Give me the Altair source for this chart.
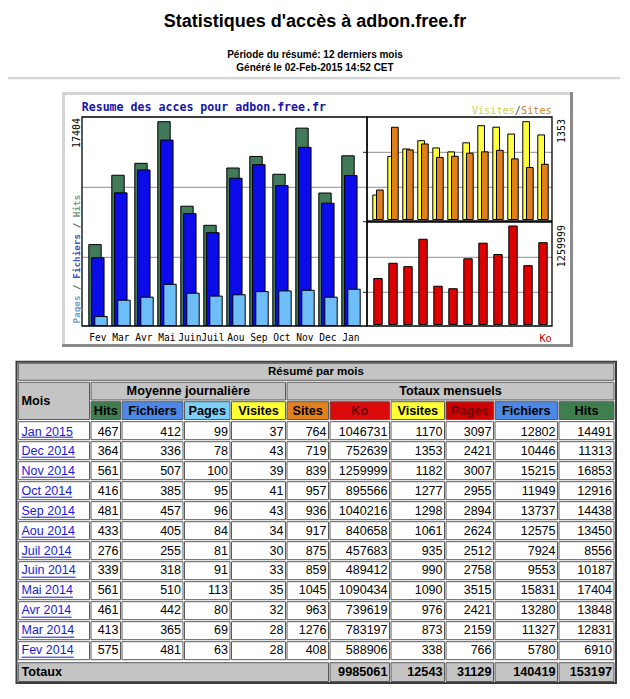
import altair as alt
import pandas as pd

# ------------------------------------------------------------------ data
mois = ["Jan 2015", "Dec 2014", "Nov 2014", "Oct 2014", "Sep 2014", "Aou 2014",
        "Juil 2014", "Juin 2014", "Mai 2014", "Avr 2014", "Mar 2014", "Fev 2014"]
moy_hits = [467, 364, 561, 416, 481, 433, 276, 339, 561, 461, 413, 575]
moy_fichiers = [412, 336, 507, 385, 457, 405, 255, 318, 510, 442, 365, 481]
moy_pages = [99, 78, 100, 95, 96, 84, 81, 91, 113, 80, 69, 63]
moy_visites = [37, 43, 39, 41, 43, 34, 30, 33, 35, 32, 28, 28]
tot_sites = [764, 719, 839, 957, 936, 917, 875, 859, 1045, 963, 1276, 408]
tot_ko = [1046731, 752639, 1259999, 895566, 1040216, 840658, 457683, 489412,
          1090434, 739619, 783197, 588906]
tot_visites = [1170, 1353, 1182, 1277, 1298, 1061, 935, 990, 1090, 976, 873, 338]
tot_pages = [3097, 2421, 3007, 2955, 2894, 2624, 2512, 2758, 3515, 2421, 2159, 766]
tot_fichiers = [12802, 10446, 15215, 11949, 13737, 12575, 7924, 9553, 15831, 13280, 11327, 5780]
tot_hits = [14491, 11313, 16853, 12916, 14438, 13450, 8556, 10187, 17404, 13848, 12831, 6910]
totaux = [9985061, 12543, 31129, 140419, 153197]
graph_labels = ["Fev", "Mar", "Avr", "Mai", "Juin", "Juil", "Aou", "Sep", "Oct", "Nov", "Dec", "Jan"]
header_labels = ["Hits", "Fichiers", "Pages", "Visites", "Sites", "Ko", "Visites", "Pages", "Fichiers", "Hits"]

# ------------------------------------------------------------------ style / layout
SANS = "Liberation Sans"
MONO = "DejaVu Sans Mono"
M = 8  # page margin


def P(v):
    return v - M


C_HITS, C_FICH, C_PAGE = "#417a58", "#0c0cea", "#6dbdf6"
C_VIS, C_SITE, C_KO = "#ffff40", "#e07f20", "#dc0000"
GRAY = "#c4c4c4"

dummy = pd.DataFrame({"k": [0]})
layers = []


def box(x1, y1, x2, y2, fill="transparent", stroke=None, sw=1.0):
    kw = dict(fill=fill)
    if stroke:
        kw.update(stroke=stroke, strokeWidth=sw)
    return alt.Chart(dummy).mark_rect(**kw).encode(
        x=alt.value(P(x1)), x2=alt.value(P(x2)), y=alt.value(P(y1)), y2=alt.value(P(y2)))


def hline(x1, x2, y, color, sw=1.0):
    return alt.Chart(dummy).mark_rule(color=color, strokeWidth=sw).encode(
        x=alt.value(P(x1)), x2=alt.value(P(x2)), y=alt.value(P(y)))


def label(txt, x, y, size, font=SANS, weight="normal", color="black",
          align="left", baseline="middle", angle=0):
    kw = dict(text=txt, font=font, fontSize=size, fontWeight=weight, color=color,
              align=align, baseline=baseline)
    if angle:
        kw["angle"] = angle
    return alt.Chart(dummy).mark_text(**kw).encode(x=alt.value(P(x)), y=alt.value(P(y)))


# ------------------------------------------------------------------ page header
layers.append(label("Statistiques d'accès à adbon.free.fr", 315, 22, 18, weight="bold", align="center"))
layers.append(label("Période du résumé: 12 derniers mois", 315, 55, 10, weight="bold", align="center"))
layers.append(label("Généré le 02-Feb-2015 14:52 CET", 315, 68, 10, weight="bold", align="center"))
layers.append(hline(8, 622, 78, "#a0a0a0", 1))
layers.append(hline(8, 622, 79, "#e4e4e4", 1))

# ------------------------------------------------------------------ graph box
layers.append(box(62, 92, 573, 347, fill="#8a8a8a"))
layers.append(box(62, 92, 570, 344, fill="#d4d4d4"))
layers.append(box(65, 95, 570, 344, fill="white"))

gdf = pd.DataFrame({
    "mois": graph_labels,
    "hits": tot_hits[::-1], "fichiers": tot_fichiers[::-1], "pages": tot_pages[::-1],
    "visites": tot_visites[::-1], "sites": tot_sites[::-1], "ko": tot_ko[::-1],
})

# gridlines
for gy in (187.3, 257.3):
    layers.append(hline(82, 367, gy, "#8c8c8c", 1))
for gy in (152.3, 187.3, 257.3, 292.3):
    layers.append(hline(367, 552, gy, "#8c8c8c", 1))
for gy in (152.3, 221.7, 292.3):
    layers.append(hline(363, 367, gy, "#222", 1))

xL = alt.X("mois:N", axis=None,
           scale=alt.Scale(domain=graph_labels, range=[P(86.35), P(86.35 + 12 * 23)],
                           paddingInner=0, paddingOuter=0))
xR = alt.X("mois:N", axis=None,
           scale=alt.Scale(domain=graph_labels, range=[P(370.5), P(370.5 + 12 * 15)],
                           paddingInner=0, paddingOuter=0))
yL = alt.Scale(domain=[0, 17404], range=[P(325.5), P(121.7)], nice=False)
yV = alt.Scale(domain=[0, 1353], range=[P(219.5), P(121.7)], nice=False)
yK = alt.Scale(domain=[0, 1259999], range=[P(324.5), P(226)], nice=False)


def bars(field, xenc, yscale, color, width, off):
    return alt.Chart(gdf).mark_bar(fill=color, stroke="black", strokeWidth=1,
                                   width=width, xOffset=off).encode(
        x=xenc, y=alt.Y(f"{field}:Q", scale=yscale, axis=None))


layers.append(bars("hits", xL, yL, C_HITS, 12.4, -2.85))
layers.append(bars("fichiers", xL, yL, C_FICH, 12.4, 0))
layers.append(bars("pages", xL, yL, C_PAGE, 12.4, 3.15))
layers.append(bars("visites", xR, yV, C_VIS, 6.7, -1.85))
layers.append(bars("sites", xR, yV, C_SITE, 6.7, 1.85))
layers.append(bars("ko", xR, yK, C_KO, 8.4, 0))

# panel frames
layers.append(box(82, 117, 367, 326, stroke="black", sw=1.3))
layers.append(box(367, 117, 552, 221, stroke="black", sw=1.3))
layers.append(box(367, 222, 552, 326, stroke="black", sw=1.3))

# month labels
layers.append(alt.Chart(gdf).mark_text(font=MONO, fontSize=9.6, baseline="alphabetic").encode(
    x=xL, y=alt.value(P(341)), text="mois:N"))

# graph texts
layers.append(label("Resume des acces pour adbon.free.fr", 81.7, 111.3, 11.6, font=MONO,
                    weight="bold", color="#1414a8", baseline="alphabetic"))
layers.append(label("17404", 76.5, 118, 10, font=MONO, align="right", angle=270))
layers.append(label("1353", 561.7, 119, 10, font=MONO, align="right", angle=270))
layers.append(label("1259999", 561.7, 225, 10, font=MONO, align="right", angle=270))

cw = 0.602 * 9.3
for txt, off, col in [("Pages", 0, "#6a9fcf"), ("/", 6, "#555555"), ("Fichiers", 8, "#3a56c0"),
                      ("/", 17, "#555555"), ("Hits", 19, "#6f9f84")]:
    layers.append(label(txt, 77, 323.5 - off * cw, 9.3, font=MONO, weight="bold", color=col,
                        angle=270))

cw2 = 0.602 * 10.2
for txt, off, col in [("Sites", 0, "#c8832f"), ("/", 5, "#555555"), ("Visites", 6, "#d6cf52")]:
    layers.append(label(txt, 551.7 - off * cw2, 114, 10.2, font=MONO, color=col, align="right",
                        baseline="alphabetic"))
layers.append(label("Ko", 551.7, 341.7, 10.2, font=MONO, color="#b00000", align="right",
                    baseline="alphabetic"))

# ------------------------------------------------------------------ table
COLS = [(18.3, 89.5), (91, 120.5), (122, 183), (184.5, 230), (231.5, 285.5),
        (287, 328.5), (330, 389.5), (391, 444.5), (446, 493.5), (495, 557.5), (559, 614)]
H_FILL = ["#3f7f4f", "#4d88e6", "#7dd0f5", "#ffff33", "#e2801e",
          "#dc0a0a", "#ffff33", "#d00000", "#4d88e6", "#3f7f4f"]
H_TEXT = ["black"] * 5 + ["#6a0000", "black", "#6a0000", "black", "black"]
CELL_STROKE = "#5a5a5a"

layers.append(box(16.5, 361.7, 616, 683, fill="white", stroke="#3c3c3c", sw=2))
layers.append(box(18.3, 363.3, 614, 380.3, fill=GRAY, stroke=CELL_STROKE))
layers.append(label("Résumé par mois", 316, 372, 11.5, weight="bold", align="center"))
layers.append(box(18.3, 382.3, 89.5, 419.5, fill=GRAY, stroke=CELL_STROKE))
layers.append(label("Mois", 21.5, 400.5, 12.7, weight="bold"))
layers.append(box(91, 382.3, 285.5, 400, fill=GRAY, stroke=CELL_STROKE))
layers.append(label("Moyenne journalière", (91 + 285.5) / 2, 391.3, 12.7, weight="bold", align="center"))
layers.append(box(287, 382.3, 614, 400, fill=GRAY, stroke=CELL_STROKE))
layers.append(label("Totaux mensuels", (287 + 614) / 2, 391.3, 12.7, weight="bold", align="center"))
for j, (l, r) in enumerate(COLS[1:]):
    layers.append(box(l, 401.7, r, 419.5, fill=H_FILL[j], stroke=CELL_STROKE))
    layers.append(label(header_labels[j], (l + r) / 2, 411, 12.7, weight="bold",
                        color=H_TEXT[j], align="center"))

AW = {"J": 0.5, "a": 0.556, "n": 0.556, " ": 0.278, "D": 0.722, "e": 0.556, "c": 0.5,
      "N": 0.722, "o": 0.556, "v": 0.5, "O": 0.778, "t": 0.278, "S": 0.667, "p": 0.556,
      "A": 0.667, "u": 0.556, "i": 0.222, "l": 0.222, "M": 0.833, "r": 0.333, "F": 0.611}
FS = 12.5
tdf = pd.DataFrame({"mois": mois})
value_cols = [moy_hits, moy_fichiers, moy_pages, moy_visites, tot_sites,
              tot_ko, tot_visites, tot_pages, tot_fichiers, tot_hits]
for j, vals in enumerate(value_cols):
    tdf[f"c{j}"] = vals
tdf["ul_x"] = P(21.5)
tdf["ul_end"] = [P(21.5) + sum(AW.get(ch, 0.556) for ch in m) * FS for m in mois]

yT = alt.Y("mois:N", axis=None,
           scale=alt.Scale(domain=mois, range=[P(421.7), P(421.7) + 238],
                           paddingInner=0.1, paddingOuter=0))

tbase = alt.Chart(tdf)
for j, (l, r) in enumerate(COLS):
    layers.append(tbase.mark_rect(fill="white", stroke=CELL_STROKE, strokeWidth=1).encode(
        y=yT, x=alt.value(P(l)), x2=alt.value(P(r))))
    if j == 0:
        layers.append(tbase.mark_text(font=SANS, fontSize=FS, color="#1a1ad8", align="left",
                                      baseline="middle").encode(
            y=yT, x=alt.value(P(21.5)), text="mois:N"))
    else:
        layers.append(tbase.mark_text(font=SANS, fontSize=FS, color="black", align="right",
                                      baseline="middle").encode(
            y=yT, x=alt.value(P(r - 2)), text=alt.Text(f"c{j-1}:Q", format="d")))
layers.append(tbase.mark_rule(color="#1a1ad8", strokeWidth=1, yOffset=6.5).encode(
    y=yT, x=alt.X("ul_x:Q", scale=None), x2="ul_end:Q"))

# totals row
layers.append(box(18.3, 662.7, 328.5, 681.5, fill=GRAY, stroke=CELL_STROKE))
layers.append(label("Totaux", 21.5, 672.3, 12.7, weight="bold"))
for k, (l, r) in enumerate(COLS[6:]):
    layers.append(box(l, 662.7, r, 681.5, fill=GRAY, stroke=CELL_STROKE))
    layers.append(alt.Chart(pd.DataFrame({"v": [totaux[k]]})).mark_text(
        font=SANS, fontSize=12.7, fontWeight="bold", align="right", baseline="middle").encode(
        x=alt.value(P(r - 2)), y=alt.value(P(672.3)), text=alt.Text("v:Q", format="d")))

chart = alt.layer(*layers).resolve_scale(x="independent", y="independent").properties(
    width=612, height=678, padding=0, background="white",
    autosize=alt.AutoSizeParams(type="none"),
).configure_view(strokeWidth=0)

chart.save("out.html", embed_options={"renderer": "svg", "actions": False})
